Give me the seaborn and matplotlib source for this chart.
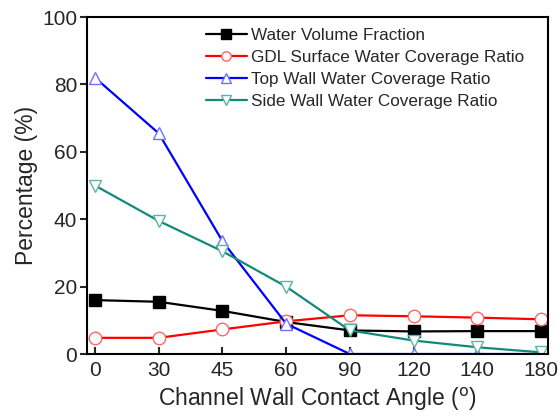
import matplotlib
matplotlib.use("Agg")
import matplotlib.pyplot as plt
import seaborn as sns
import pandas as pd

sns.set_style("ticks")
plt.rcParams['font.family'] = ['Liberation Sans', 'DejaVu Sans']

# data
angles = ['0', '30', '45', '60', '90', '120', '140', '180']
water_volume = [16.0, 15.5, 12.8, 9.5, 7.0, 6.7, 6.8, 6.8]
gdl_coverage = [4.8, 4.8, 7.3, 9.7, 11.5, 11.2, 10.8, 10.3]
top_wall = [82.0, 65.5, 33.5, 9.0, 0.0, 0.0, 0.0, 0.0]
side_wall = [50.0, 39.5, 30.5, 20.0, 7.0, 4.0, 2.0, 0.5]

series = [
    ('Water Volume Fraction', water_volume, 'black', 's', 'black', 'black'),
    ('GDL Surface Water Coverage Ratio', gdl_coverage, '#FF0000', 'o', '#FF6666', 'white'),
    ('Top Wall Water Coverage Ratio', top_wall, '#0000FF', '^', '#7070FF', 'white'),
    ('Side Wall Water Coverage Ratio', side_wall, '#12897A', 'v', '#5DB3A6', 'white'),
]

fig = plt.figure(figsize=(5.58, 4.16), dpi=100)
ax = fig.add_axes([0.156, 0.149, 0.826, 0.81])

pos = list(range(len(angles)))
for name, vals, color, marker, edge, face in series:
    df = pd.DataFrame({'pos': pos, 'val': vals})
    sns.lineplot(data=df, x='pos', y='val', ax=ax, color=color, linewidth=1.6,
                 marker=marker, markersize=9, markeredgecolor=edge,
                 markerfacecolor=face, markeredgewidth=1.0, label=name)

ax.set_xlim(-0.125, 7.11)
ax.set_ylim(0, 100)
ax.set_xticks(pos)
ax.set_xticklabels(angles)
ax.set_yticks([0, 20, 40, 60, 80, 100])
ax.tick_params(axis='x', direction='in', length=5, width=1.5, labelsize=15, pad=5)
ax.tick_params(axis='y', direction='out', length=5, width=1.5, labelsize=15, pad=2)
for s in ax.spines.values():
    s.set_visible(True)
    s.set_linewidth(1.5)
    s.set_color('black')

ax.set_xlabel('Channel Wall Contact Angle ($^{\\mathrm{o}}$)', fontsize=16.5, labelpad=4)
ax.set_ylabel('Percentage (%)', fontsize=16.5, labelpad=3)

ax.legend(loc='upper left', frameon=False, fontsize=12.3, handlelength=2.4,
          handletextpad=0.25, labelspacing=0.42, borderpad=0, borderaxespad=0,
          markerscale=0.75, bbox_to_anchor=(0.258, 0.968))

plt.savefig('out.png', dpi=100)
plt.close()
